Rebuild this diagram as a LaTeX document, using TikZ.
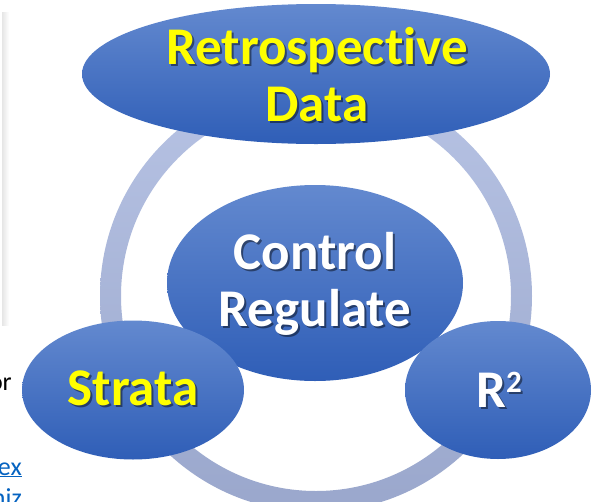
\documentclass[tikz,border=0pt]{standalone}
\usepackage{fontspec}
\setmainfont{Carlito}[Ligatures={NoCommon}]
\usetikzlibrary{shapes.geometric}
\definecolor{blueTop}{HTML}{6389CF}
\definecolor{blueMid}{HTML}{4673C6}
\definecolor{blueBot}{HTML}{2F5EB7}
\definecolor{ringTop}{HTML}{B7C3E4}
\definecolor{ringBot}{HTML}{9AA7CC}
\definecolor{yel}{HTML}{FFFF00}
\definecolor{linkblue}{HTML}{0563C1}
\newcommand\supertwo{\raisebox{15pt}{\fontsize{31}{31}\selectfont 2}}
\begin{document}
\begin{tikzpicture}[x=1pt,y=-1pt,
  bubble/.style={ellipse, inner sep=0pt, outer sep=0pt, draw=none,
    top color=blueTop, middle color=blueMid, bottom color=blueBot},
  lbl/.style={font=\bfseries\fontsize{53}{57}\selectfont, align=center, inner sep=0pt},
  lblshadow/.style={lbl, text=black, text opacity=0.45, xshift=2pt, yshift=-2pt},
  frag/.style={font=\fontsize{26}{30}\selectfont, inner sep=0pt, anchor=base east},
]
\useasboundingbox (0,0) rectangle (592,501);
\fill[white] (0,0) rectangle (592,501);
% fragment of a neighbouring box
\shade[left color=black!10, right color=white] (2,12) rectangle (9,325);
% ring
\coordinate (ringc) at (316,296);
\shade[top color=ringTop, bottom color=ringBot, even odd rule]
  (ringc) circle (216pt) (ringc) circle (195pt);
% bubbles
\node[bubble, minimum width=468pt, minimum height=140pt] (retro) at (316,74) {};
\node[bubble, minimum width=296pt, minimum height=196pt] (ctrl) at (315,283) {};
\node[bubble, minimum width=222pt, minimum height=139pt] (strata) at (133,390) {};
\node[bubble, minimum width=186pt, minimum height=138pt] (rsq) at (498,390) {};
% labels
\node[lblshadow] (retro-s) at (317,75) {Retrospective\\Data};
\node[lbl, text=yel] (retro-t) at (317,75) {Retrospective\\Data};
\node[lblshadow] (ctrl-s) at (315,284) {Control\\Regulate};
\node[lbl, text=white] (ctrl-t) at (315,284) {Control\\Regulate};
\node[lblshadow] (strata-s) at (133,388) {Strata};
\node[lbl, text=yel] (strata-t) at (133,388) {Strata};
\node[lblshadow] (rsq-s) at (499,390) {R\supertwo};
\node[lbl, text=white] (rsq-t) at (499,390) {R\supertwo};
% cut-off text at the left edge
\node[frag] (or) at (12,390) {or};
\node[frag, text=linkblue] (ex) at (22,475) {\underline{ex}};
\node[frag, text=linkblue] (niz) at (22,506) {niz};
\end{tikzpicture}
\end{document}
